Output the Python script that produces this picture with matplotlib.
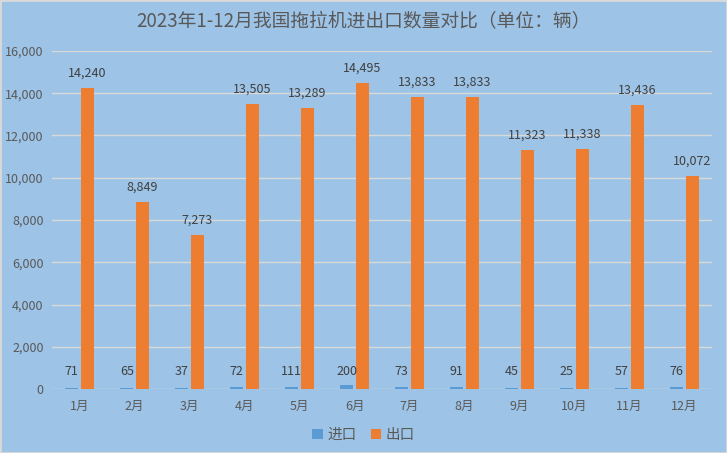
import numpy as np
import matplotlib.pyplot as plt
from matplotlib.patches import Rectangle

plt.rcParams['font.family'] = ['Noto Sans CJK SC', 'DejaVu Sans']

months = ["1月", "2月", "3月", "4月", "5月", "6月", "7月", "8月", "9月", "10月", "11月", "12月"]
imports = [71, 65, 37, 72, 111, 200, 73, 91, 45, 25, 57, 76]
exports = [14240, 8849, 7273, 13505, 13289, 14495, 13833, 13833, 11323, 11338, 13436, 10072]

bg = "#9DC3E6"
txt = "#595959"
blue = "#5B9BD5"
orange = "#ED7D31"

fig = plt.figure(figsize=(7.27, 4.53), dpi=100, facecolor=bg)
fig.patches.append(Rectangle((0, 0), 1, 1, transform=fig.transFigure,
                             fill=False, edgecolor="#D9D9D9", linewidth=2))
ax = fig.add_axes([52 / 727, 64 / 453, 660 / 727, 338 / 453])
ax.set_facecolor(bg)

x = np.arange(len(months))
w = 0.24
b1 = ax.bar(x - 0.14, imports, w, color=blue, label="进口")
b2 = ax.bar(x + 0.14, exports, w, color=orange, label="出口")

for xi, v in zip(x, imports):
    ax.text(xi - 0.14, 500, f"{v:,}", ha="center", va="bottom", fontsize=9, color="#404040")
for xi, v in zip(x, exports):
    ax.text(xi + 0.14, v + 400, f"{v:,}", ha="center", va="bottom", fontsize=9, color="#404040")

ax.set_xlim(-0.5, len(months) - 0.5)
ax.set_ylim(0, 16000)
ax.set_yticks(range(0, 16001, 2000))
ax.set_yticklabels([f"{v:,}" for v in range(0, 16001, 2000)])
ax.set_xticks(x)
ax.set_xticklabels(months)
ax.tick_params(axis="both", length=0, colors=txt, labelsize=9)
ax.tick_params(axis="y", pad=6)
ax.tick_params(axis="x", pad=8)
ax.grid(axis="y", color="#D9D9D9", linewidth=1)
ax.set_axisbelow(True)
for s in ax.spines.values():
    s.set_visible(False)

fig.text(0.5, 0.952, "2023年1-12月我国拖拉机进出口数量对比（单位：辆）",
         ha="center", va="center", fontsize=13.5, color=txt)

fig.legend(handles=[b1, b2], loc="center", bbox_to_anchor=(0.5, 0.04), ncol=2,
           frameon=False, fontsize=10.5, handlelength=0.7, handleheight=0.7,
           handletextpad=0.3, columnspacing=1.0, labelcolor=txt)

fig.savefig("out.png", dpi=100, facecolor=bg)
